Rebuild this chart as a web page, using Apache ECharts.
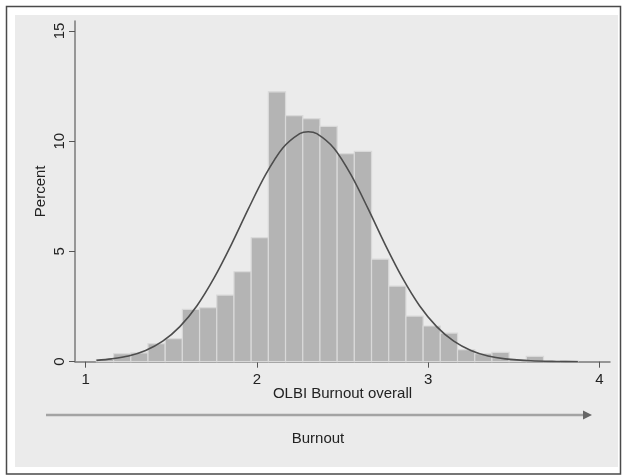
<!DOCTYPE html>
<html>
<head>
<meta charset="utf-8">
<script src="https://cdn.jsdelivr.net/npm/echarts@6/dist/echarts.min.js"></script>
<style>
html,body{margin:0;padding:0;background:#fff;}
#c{width:626px;height:476px;}
</style>
</head>
<body>
<div id="c"></div>
<script>
// Histogram bin edges (OLBI Burnout overall) and bar heights (percent)
var binEdges = [1.0625, 1.1629, 1.2634, 1.3638, 1.4643, 1.5647, 1.6652, 1.7656, 1.8661, 1.9665,
  2.0670, 2.1674, 2.2679, 2.3683, 2.4688, 2.5692, 2.6696, 2.7701, 2.8705, 2.9710,
  3.0714, 3.1719, 3.2723, 3.3728, 3.4732, 3.5737, 3.6741, 3.7746, 3.8750];
var percents = [0.10, 0.36, 0.40, 0.82, 1.04, 2.37, 2.45, 3.02, 4.08, 5.62,
  12.24, 11.16, 11.02, 10.67, 9.43, 9.54, 4.65, 3.43, 2.07, 1.62,
  1.30, 0.55, 0.36, 0.42, 0.10, 0.24, 0.00, 0.05];
// Normal curve overlay
var curveX = [1.0625, 1.15, 1.25, 1.35, 1.45, 1.55, 1.65, 1.75, 1.85, 1.95, 2.05, 2.15, 2.25, 2.30,
  2.35, 2.45, 2.55, 2.65, 2.75, 2.85, 2.95, 3.05, 3.15, 3.25, 3.35, 3.45, 3.60, 3.75, 3.875];
var curveY = [0.06, 0.13, 0.26, 0.51, 0.93, 1.59, 2.54, 3.80, 5.30, 6.93, 8.47, 9.68, 10.34, 10.43,
  10.34, 9.68, 8.47, 6.93, 5.30, 3.80, 2.54, 1.59, 0.93, 0.51, 0.26, 0.13, 0.04, 0.01, 0.00];
var xTicks = [1, 2, 3, 4];
var yTicks = [0, 5, 10, 15];
var xTitle = 'OLBI Burnout overall';
var yTitle = 'Percent';
var arrowLabel = 'Burnout';

var barData = percents.map(function (p, i) { return [binEdges[i], binEdges[i + 1], p]; });
var lineData = curveX.map(function (x, i) { return [x, curveY[i]]; });

var FONT = "'Liberation Sans', Arial, sans-serif";
var chart = echarts.init(document.getElementById('c'), null, {renderer: 'canvas'});
chart.setOption({
  backgroundColor: 'transparent',
  animation: false,
  textStyle: {fontFamily: FONT},
  graphic: [
    {type: 'rect', z: -20, shape: {x: 6.5, y: 6.5, width: 614, height: 467.5}, style: {fill: '#ffffff', stroke: '#4a4a4a', lineWidth: 1.5}},
    {type: 'rect', z: -19, shape: {x: 15, y: 15, width: 603, height: 452}, style: {fill: '#ebebeb'}},
    {type: 'line', z: 10, shape: {x1: 46, y1: 415, x2: 584, y2: 415}, style: {stroke: '#a3a3a3', lineWidth: 2.5}},
    {type: 'polygon', z: 10, shape: {points: [[583, 410.5], [592, 415], [583, 419.5]]}, style: {fill: '#666666'}},
    {type: 'text', z: 10, x: 318, y: 439, style: {text: arrowLabel, fontSize: 15, fontFamily: FONT, fill: '#222', align: 'center', verticalAlign: 'middle'}}
  ],
  grid: {left: 75, right: 16, top: 21, bottom: 114.3},
  xAxis: {
    type: 'value', min: 0.9375, max: 4.0625,
    name: xTitle, nameLocation: 'middle', nameGap: 25, nameMoveOverlap: false,
    nameTextStyle: {fontSize: 15, color: '#222', fontFamily: FONT},
    axisLine: {show: true, onZero: false, lineStyle: {color: '#7a7a7a', width: 1.5}},
    axisTick: {show: true, length: 6, lineStyle: {color: '#555', width: 1}, customValues: xTicks},
    axisLabel: {fontSize: 15, color: '#222', margin: 11, customValues: xTicks, fontFamily: FONT},
    splitLine: {show: false}
  },
  yAxis: {
    type: 'value', min: 0, max: 15.45,
    name: yTitle, nameLocation: 'middle', nameGap: 27, nameRotate: 90, nameMoveOverlap: false,
    nameTextStyle: {fontSize: 15, color: '#222', fontFamily: FONT},
    axisLine: {show: true, lineStyle: {color: '#7a7a7a', width: 1.5}},
    axisTick: {show: true, length: 6, lineStyle: {color: '#555', width: 1}, customValues: yTicks},
    axisLabel: {fontSize: 15, color: '#222', margin: 8, rotate: 90, customValues: yTicks, fontFamily: FONT},
    splitLine: {show: false}
  },
  series: [
    {
      type: 'custom',
      data: barData,
      encode: {x: [0, 1], y: 2},
      renderItem: function (params, api) {
        var p0 = api.coord([api.value(0), 0]);
        var p1 = api.coord([api.value(1), api.value(2)]);
        return {
          type: 'rect',
          shape: {x: p0[0], y: p1[1], width: p1[0] - p0[0], height: p0[1] - p1[1]},
          style: {fill: '#b4b4b4', stroke: '#d9d9d9', lineWidth: 1.2}
        };
      },
      z: 2
    },
    {
      type: 'line',
      data: lineData,
      showSymbol: false,
      smooth: 0.3,
      lineStyle: {color: '#4d4d4d', width: 1.6},
      z: 3
    }
  ]
});
</script>
</body>
</html>
